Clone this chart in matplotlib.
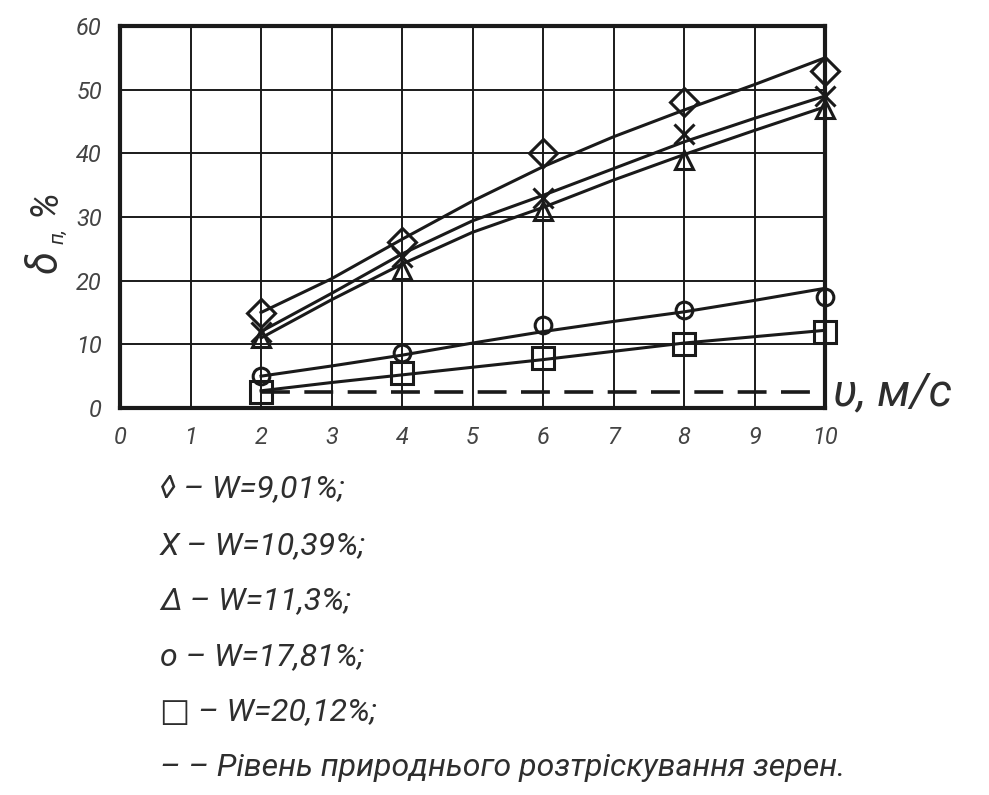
import matplotlib
matplotlib.use("Agg")
import matplotlib.pyplot as plt

plt.rcParams['font.family'] = ['Roboto', 'DejaVu Sans']

# measured points, v (m/s)
v = [2, 4, 6, 8, 10]
d_901 = [15, 26, 40, 48, 53]
d_1039 = [12, 23.7, 33, 43, 49]
d_113 = [11, 21.7, 31, 39, 47]
d_1781 = [5, 8.6, 13, 15.4, 17.5]
d_2012 = [2.5, 5.5, 7.8, 10, 12]

# smoothed trend curves as drawn in the figure
v_fine = [2, 3, 4, 5, 6, 7, 8, 9, 10]
c_901 = [15, 20.3, 26.5, 32.5, 37.9, 42.6, 46.8, 50.8, 55]
c_1039 = [12, 18, 24.2, 29.4, 33.4, 37.6, 41.8, 45.5, 49]
c_113 = [11, 17, 22.6, 27.6, 31.5, 35.8, 39.8, 43.6, 47.3]
c_1781 = [5, 6.6, 8.3, 10.2, 12, 13.6, 15.1, 16.9, 18.8]
c_2012 = [2.7, 4.0, 5.2, 6.4, 7.6, 8.9, 10.2, 11.2, 12.2]

level_v = [2, 10]
level = [2.5, 2.5]

legend_lines = ["\u25CA \u2013 W=9,01%;", "X \u2013 W=10,39%;", "\u0394 \u2013 W=11,3%;",
                "\u043E \u2013 W=17,81%;", "\u25A1 \u2013 W=20,12%;",
                "\u2013 \u2013 Рівень природнього розтріскування зерен."]

fig = plt.figure(figsize=(9.89, 7.95), dpi=100)
ax = fig.add_axes([120/989, 1 - 408/795, 705/989, 382/795])

ink = "#1a1a1a"
txt = "#2e2e2e"

for c in [c_901, c_1039, c_113, c_1781, c_2012]:
    ax.plot(v_fine, c, color=ink, lw=2.2)
ax.plot(level_v, level, color=ink, lw=2.6, ls=(0, (8, 4)))

mk = dict(ls='none', mfc='none', mec=ink, mew=2.2, clip_on=False, zorder=5)
ax.plot(v, d_901, marker='D', ms=14, **mk)
ax.plot(v, d_1039, marker='x', ms=15, **mk)
ax.plot(v, d_113, marker='^', ms=12.5, **mk)
ax.plot(v, d_1781, marker='o', ms=12, **mk)
ax.plot(v, d_2012, marker='s', ms=16, **mk)

ax.set_xlim(0, 10)
ax.set_ylim(0, 60)
ax.set_xticks(range(0, 11))
ax.set_yticks(range(0, 61, 10))
ax.grid(True, color=ink, lw=1.4)
ax.set_axisbelow(True)
for s in ax.spines.values():
    s.set_linewidth(3)
    s.set_color(ink)
ax.tick_params(length=0, labelsize=17, labelcolor="#444444", pad=13)
for lab in ax.get_xticklabels() + ax.get_yticklabels():
    lab.set_style('italic')

# axis labels
fig.text(833/989, 1 - 392/795, "\u03C5, м/с", fontsize=33, style='italic', color=txt,
         ha='left', va='center')
fig.text(45/989, 1 - 262/795, "\u03B4", fontsize=30, style='italic', color=txt,
         rotation=90, ha='center', va='center')
fig.text(58/989, 1 - 236/795, "п,", fontsize=15, style='italic', color=txt,
         rotation=90, ha='center', va='center')
fig.text(45/989, 1 - 203/795, "%", fontsize=27, style='italic', color=txt,
         rotation=90, ha='center', va='center')

y0 = 490
for i, line in enumerate(legend_lines):
    fig.text(160/989, 1 - (y0 + i * 55.5)/795, line, fontsize=23, style='italic',
             color=txt, ha='left', va='center',
             family=['Roboto', 'DejaVu Sans'])

fig.savefig("out.png", dpi=100, facecolor='white')
